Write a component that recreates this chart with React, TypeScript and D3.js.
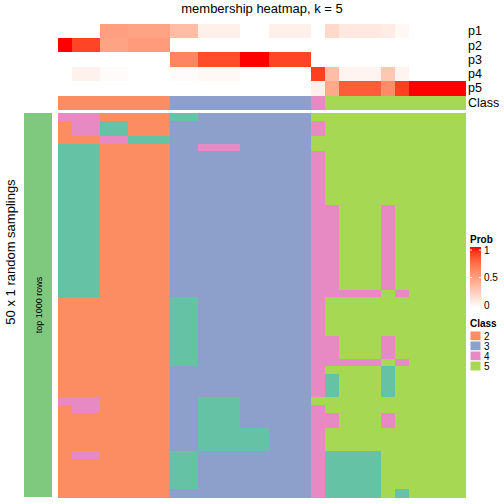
import React from "react";
import * as d3 from "d3";

const TITLE = "membership heatmap, k = 5";
const ROW_TITLE = "50 x 1 random samplings";
const ROW_ANNO_LABEL = "top 1000 rows";
const ANNO_NAMES = ["p1", "p2", "p3", "p4", "p5"];

const P1 = [0, 0, 0, 0.5, 0.5, 0.48, 0.48, 0.48, 0.35, 0.35, 0.08, 0.08, 0.08, 0, 0, 0.08, 0.08, 0.08, 0, 0.2, 0.12, 0.12, 0.12, 0.1, 0.04, 0, 0, 0, 0];
const P2 = [1, 0.88, 0.88, 0.48, 0.48, 0.52, 0.52, 0.52, 0, 0, 0, 0, 0, 0, 0, 0, 0, 0, 0, 0, 0, 0, 0, 0, 0, 0, 0, 0, 0];
const P3 = [0, 0, 0, 0, 0, 0, 0, 0, 0.63, 0.63, 0.86, 0.86, 0.86, 1, 1, 0.88, 0.88, 0.88, 0, 0, 0, 0, 0, 0, 0, 0, 0, 0, 0];
const P4 = [0, 0.07, 0.07, 0.02, 0.02, 0, 0, 0, 0.02, 0.02, 0.04, 0.04, 0.04, 0, 0, 0, 0, 0, 0.9, 0.35, 0.06, 0.06, 0.06, 0.3, 0.06, 0, 0, 0, 0];
const P5 = [0, 0, 0, 0, 0, 0, 0, 0, 0, 0, 0, 0, 0, 0, 0, 0, 0, 0, 0.08, 0.45, 0.8, 0.8, 0.8, 0.6, 0.9, 1, 1, 1, 1];
const CLASS = [2, 2, 2, 2, 2, 2, 2, 2, 3, 3, 3, 3, 3, 3, 3, 3, 3, 3, 4, 5, 5, 5, 5, 5, 5, 5, 5, 5, 5];

// 50 random samplings x 29 samples, class label per cell
const MEMBERSHIP_ROWS = [
  "44422222 1133333333 5 5555555555",
  "24411222 3333333333 4 5555555555",
  "24411222 3333333333 4 5555555555",
  "22244111 3333333333 5 5555555555",
  "11122222 3344433333 5 5555555555",
  "11122222 3333333333 4 5555555555",
  "11122222 3333333333 4 5555555555",
  "11122222 3333333333 4 5555555555",
  "11122222 3333333333 4 5555555555",
  "11122222 3333333333 4 5555555555",
  "11122222 3333333333 4 5555555555",
  "11122222 3333333333 4 5555555555",
  "11122222 3333333333 4 4555455555",
  "11122222 3333333333 4 4555455555",
  "11122222 3333333333 4 4555455555",
  "11122222 3333333333 4 4555455555",
  "11122222 3333333333 4 4555455555",
  "11122222 3333333333 4 4555455555",
  "11122222 3333333333 4 4555455555",
  "11122222 3333333333 4 4555455555",
  "11122222 3333333333 4 4555455555",
  "11122222 3333333333 4 4555455555",
  "11122222 3333333333 4 4555455555",
  "11122222 3333333333 4 4444545555",
  "22222222 1133333333 4 5555555555",
  "22222222 1133333333 4 5555555555",
  "22222222 1133333333 4 5555555555",
  "22222222 1133333333 4 5555555555",
  "22222222 1133333333 4 5555555555",
  "22222222 1133333333 4 4555455555",
  "22222222 1133333333 4 4555455555",
  "22222222 1133333333 4 4555455555",
  "22222222 1133333333 4 4444545555",
  "22222222 3333333333 4 5555155555",
  "22222222 3333333333 4 1555155555",
  "22222222 3333333333 4 1555155555",
  "22222222 3333333333 4 1555155555",
  "44422222 3311133333 5 5555555555",
  "24422222 3311133333 4 5555555555",
  "22222222 3311133333 4 4555455555",
  "22222222 3311133333 4 4555455555",
  "22222222 3311111333 4 5555555555",
  "22222222 3311111333 4 5555555555",
  "22222222 3311111333 4 5555555555",
  "24422222 1133333333 4 1111555555",
  "22222222 1133333333 4 1111555555",
  "22222222 1133333333 4 1111555555",
  "22222222 1133333333 4 1111555555",
  "22222222 1133333333 4 1111555555",
  "22222222 3333333333 4 1111515555",
];

const CLASS_LEVELS = [2, 3, 4, 5];
const CLASS_KEYS = [1, 2, 3, 4, 5];
const CLASS_COLORS = ["#66C2A5", "#FC8D62", "#8DA0CB", "#E78AC3", "#A6D854"];
const PROB_TICKS = [0, 0.5, 1];

const FONT = "'Liberation Sans', Arial, Helvetica, sans-serif";

export default function App() {
  const probs = [P1, P2, P3, P4, P5];
  const matrix = MEMBERSHIP_ROWS.map((r) => r.replace(/ /g, "").split("").map(Number));
  const nCol = CLASS.length;

  const x = d3.scaleBand<number>().domain(d3.range(nCol)).range([58, 465]);
  const yAnno = d3.scaleBand<string>().domain(ANNO_NAMES).range([24, 95]);
  const yClass = { y: 96, h: 14 };
  const y = d3.scaleBand<number>().domain(d3.range(matrix.length)).range([113, 497]);
  const classColor = d3.scaleOrdinal<number, string>().domain(CLASS_KEYS).range(CLASS_COLORS);
  const probColor = d3.scaleLinear<string>().domain([0, 1]).range(["white", "red"]).interpolate(d3.interpolateLab);
  const yLeg = d3.scaleLinear().domain([0, 1]).range([305, 250]);

  const cells: JSX.Element[] = [];
  matrix.forEach((row, i) =>
    row.forEach((v, j) => {
      cells.push(
        <rect key={`c${i}-${j}`} x={x(j)} y={y(i)} width={x.bandwidth() + 0.5} height={y.bandwidth() + 0.5} fill={classColor(v)} />
      );
    })
  );

  return (
    <svg width={504} height={504} style={{ display: "block", position: "absolute", left: 0, top: 0 }} fontFamily={FONT}>
      <rect width={504} height={504} fill="white" />
      <text x={262} y={13} fontSize={13} textAnchor="middle" fill="#000">{TITLE}</text>

      {/* probability annotations */}
      <g shapeRendering="crispEdges">
        {probs.map((p, k) =>
          p.map((v, j) => (
            <rect key={`p${k}-${j}`} x={x(j)} y={yAnno(ANNO_NAMES[k])} width={x.bandwidth() + 0.5} height={yAnno.bandwidth() + 0.5} fill={probColor(v)} />
          ))
        )}
        {CLASS.map((c, j) => (
          <rect key={`cl${j}`} x={x(j)} y={yClass.y} width={x.bandwidth() + 0.5} height={yClass.h} fill={classColor(c)} />
        ))}
      </g>
      {ANNO_NAMES.map((n) => (
        <text key={n} x={468} y={(yAnno(n) as number) + yAnno.bandwidth() / 2} dy="0.35em" fontSize={12.5} fill="#000">{n}</text>
      ))}
      <text x={468} y={yClass.y + yClass.h / 2} dy="0.35em" fontSize={12.5} fill="#000">Class</text>

      {/* main heatmap */}
      <g shapeRendering="crispEdges">{cells}</g>

      {/* left annotation */}
      <rect x={24} y={113} width={28} height={384} fill="#7FC97F" />
      <text transform="translate(41.5,305) rotate(-90)" fontSize={9} textAnchor="middle" fill="#000">{ROW_ANNO_LABEL}</text>
      <text transform="translate(15,252) rotate(-90)" fontSize={13} textAnchor="middle" fill="#000">{ROW_TITLE}</text>

      {/* Prob legend */}
      <defs>
        <linearGradient id="probGrad" x1="0" y1="1" x2="0" y2="0">
          {d3.range(0, 1.001, 0.1).map((t) => (
            <stop key={t} offset={`${t * 100}%`} stopColor={probColor(t)} />
          ))}
        </linearGradient>
      </defs>
      <text x={470} y={243} fontSize={10} fontWeight="bold" fill="#000">Prob</text>
      <rect x={470} y={yLeg(1) - 3} width={11} height={yLeg(0) - yLeg(1) + 6} fill="url(#probGrad)" />
      {PROB_TICKS.map((t) => (
        <g key={t}>
          <line x1={470} x2={472} y1={yLeg(t)} y2={yLeg(t)} stroke="white" strokeWidth={1} />
          <line x1={479} x2={481} y1={yLeg(t)} y2={yLeg(t)} stroke="white" strokeWidth={1} />
          <text x={484} y={yLeg(t)} dy="0.35em" fontSize={10} fill="#000">{String(t)}</text>
        </g>
      ))}

      {/* Class legend */}
      <text x={470} y={327} fontSize={10} fontWeight="bold" fill="#000">Class</text>
      {CLASS_LEVELS.map((c, i) => (
        <g key={c}>
          <rect x={470} y={331 + i * 10} width={11} height={10} fill={classColor(c)} stroke="white" strokeWidth={1} />
          <text x={484} y={336 + i * 10} dy="0.35em" fontSize={10} fill="#000">{String(c)}</text>
        </g>
      ))}
    </svg>
  );
}
